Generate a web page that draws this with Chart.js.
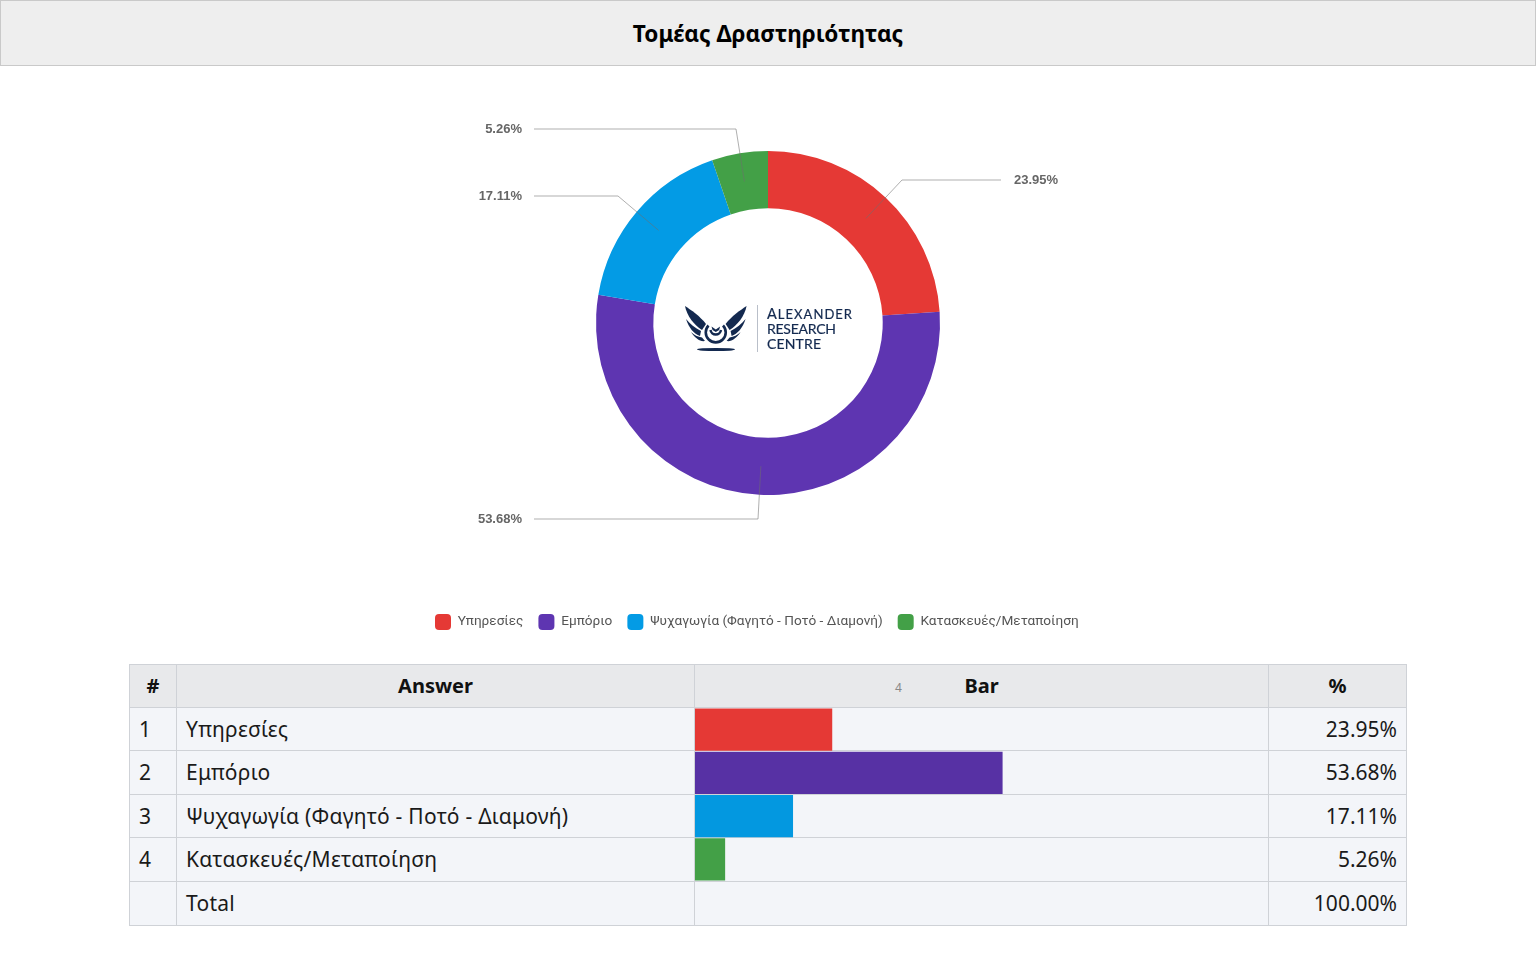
<!DOCTYPE html>
<html lang="el"><head><meta charset="utf-8"><title>Τομέας Δραστηριότητας</title>
<script src="https://cdn.jsdelivr.net/npm/chart.js@4"></script>
<style>
html,body{margin:0;padding:0;background:#fff;width:1536px;height:960px;overflow:hidden}
body{position:relative;font-family:"Noto Sans",sans-serif;color:#111}
#title{position:absolute;left:0;top:0;width:1534px;height:64px;background:#eeeeee;border:1px solid #c9c9c9;text-align:center;line-height:65px;font-size:22.600px;font-weight:700;color:#000}
canvas{position:absolute}
#pie{left:420px;top:66px}
#bar{left:695px;top:708px;z-index:2}
.c{position:absolute;box-sizing:border-box;background:#f3f5f9;border-right:1px solid #cfd2d7;border-bottom:1px solid #cfd2d7;font-size:21px;white-space:nowrap;padding:0 9px 1px;display:flex;align-items:center;color:#1a1a1a}
.a{letter-spacing:.25px}
.h{background:#e8e9eb;font-weight:700;justify-content:center;color:#111;font-size:20px;padding-bottom:2px;letter-spacing:0}
.r{justify-content:flex-end}
#four{position:absolute;left:895px;top:679px;font-size:12px;color:#888;z-index:3}
#logo{position:absolute;left:680px;top:300px;width:180px;height:58px}
</style></head><body>
<div id="title">Τομέας Δραστηριότητας</div>
<canvas id="pie" width="696" height="574"></canvas>
<svg id="logo" viewBox="680 300 180 58" xmlns="http://www.w3.org/2000/svg">
 <g fill="#13294f">
  <g id="wing">
   <path d="M685 306C691 310 700 316 706 324L702 330C694 325 687 316 685 306z"/>
   <path d="M686 319C690 324 695 328 701 331L700 336C694 334 689 328 686 319z"/>
   <path d="M691 332C694 335 698 337 702 337.500L705 341C700 342 695 338 691 332z"/>
  </g>
  <g transform="translate(1431.600,0) scale(-1,1)">
   <path d="M685 306C691 310 700 316 706 324L702 330C694 325 687 316 685 306z"/>
   <path d="M686 319C690 324 695 328 701 331L700 336C694 334 689 328 686 319z"/>
   <path d="M691 332C694 335 698 337 702 337.500L705 341C700 342 695 338 691 332z"/>
  </g>
  <ellipse cx="716" cy="349.500" rx="19" ry="1.600"/>
  <path d="M711.500 326.500l4.300 3 4.300-3-1 3.500-3.300 2-3.300-2z"/>
 </g>
 <g fill="none" stroke="#13294f">
  <path d="M708.500 325.500A10 10 0 1 0 723 325.500" stroke-width="2.600"/>
  <path d="M710.500 330A5.300 5.300 0 0 0 721 330" stroke-width="2.400"/>
 </g>
 <line x1="757.500" y1="305" x2="757.500" y2="352" stroke="#b9bfc9" stroke-width="1"/>
 <g fill="#13294f" stroke="#13294f" stroke-width=".2" font-family="Lato,'Open Sans',sans-serif" font-size="14.500">
  <text x="767" y="319" textLength="85">A<tspan font-size="13">LEXANDER</tspan></text>
  <text x="767" y="334" textLength="69" font-size="14">RESEARCH</text>
  <text x="767" y="349" textLength="54" font-size="14">CENTRE</text>
 </g>
</svg>
<div id="table"></div>
<div id="four">4</div>
<canvas id="bar" width="573" height="173"></canvas>
<script>
const categories = ["Υπηρεσίες","Εμπόριο","Ψυχαγωγία (Φαγητό - Ποτό - Διαμονή)","Κατασκευές/Μεταποίηση"];
const percentages = [23.95,53.68,17.11,5.26];
const totalLabel = "Total";
const totalValue = "100.00%";
const colors = ["#e53935","#5e35b1","#039be5","#43a047"];
const barColors = ["#e53935","#5731a4","#0398e0","#43a047"];
const headers = ["#","Answer","Bar","%"];

// table
const colX=[129,177,695,1269,1407], rowY=[664,708,751,795,838,882,926];
const table=document.getElementById('table');
function cell(col,row,text,cls){
  const d=document.createElement('div');
  d.className='c '+(cls||'');
  d.style.left=colX[col]+'px';d.style.top=rowY[row]+'px';
  d.style.width=(colX[col+1]-colX[col])+'px';d.style.height=(rowY[row+1]-rowY[row])+'px';
  d.textContent=text;
  if(col===0)d.style.borderLeft='1px solid #cfd2d7';
  if(row===0)d.style.borderTop='1px solid #cfd2d7';
  table.appendChild(d);
}
headers.forEach((h,i)=>cell(i,0,h,'h'));
categories.forEach((c,i)=>{
  cell(0,i+1,String(i+1));cell(1,i+1,c,'a');cell(2,i+1,'');
  cell(3,i+1,percentages[i].toFixed(2)+'%','r');
});
cell(0,5,'');cell(1,5,totalLabel,'a');cell(2,5,'');cell(3,5,totalValue,'r');

// leader lines, offsets from the doughnut centre
const leaderElbows=[[134,-143],[-10,196],[-150,-127],[-32,-194]];
const leaderEnds=[233,-234,-234,-234];
const leaderPlugin={id:'leaders',afterDatasetsDraw(chart){
  const ctx=chart.ctx,arcs=chart.getDatasetMeta(0).data;
  ctx.save();
  arcs.forEach((arc,i)=>{
    const p=arc.getCenterPoint(),cx=arc.x,cy=arc.y;
    const ex=cx+leaderElbows[i][0],ey=cy+leaderElbows[i][1],tx=cx+leaderEnds[i];
    ctx.beginPath();ctx.moveTo(p.x,p.y);ctx.lineTo(ex,ey);ctx.lineTo(tx,ey);
    ctx.strokeStyle='rgba(110,110,110,0.55)';ctx.lineWidth=1;ctx.stroke();
    ctx.fillStyle='#666';ctx.font='bold 13px "Liberation Sans",Arial,sans-serif';
    ctx.textBaseline='middle';
    const right=leaderEnds[i]>0;
    ctx.textAlign=right?'left':'right';
    ctx.fillText(percentages[i].toFixed(2)+'%',tx+(right?13:-12),ey+0.5);
  });
  ctx.restore();
}};

new Chart(document.getElementById('pie'),{
  type:'doughnut',plugins:[leaderPlugin],
  data:{labels:categories,datasets:[{data:percentages,backgroundColor:colors,borderWidth:0}]},
  options:{responsive:false,animation:false,cutout:'66.700%',
    layout:{padding:{top:85,bottom:0}},
    plugins:{tooltip:{enabled:false},
      title:{display:true,text:'',position:'bottom',weight:500,font:{size:2,lineHeight:1},padding:{top:102,bottom:0}},
      legend:{position:'bottom',align:'start',labels:{useBorderRadius:true,borderRadius:4,boxWidth:16,boxHeight:16,padding:15,color:'#555',font:{family:'Roboto',size:13.600}}}}}
});
new Chart(document.getElementById('bar'),{
  type:'bar',
  data:{labels:categories,datasets:[{data:percentages,backgroundColor:barColors,borderWidth:0,categoryPercentage:1,barPercentage:0.98}]},
  options:{indexAxis:'y',responsive:false,animation:false,
    layout:{padding:0},
    scales:{x:{display:false,min:0,max:100},y:{display:false}},
    plugins:{legend:{display:false},tooltip:{enabled:false}}}
});
</script>
</body></html>
